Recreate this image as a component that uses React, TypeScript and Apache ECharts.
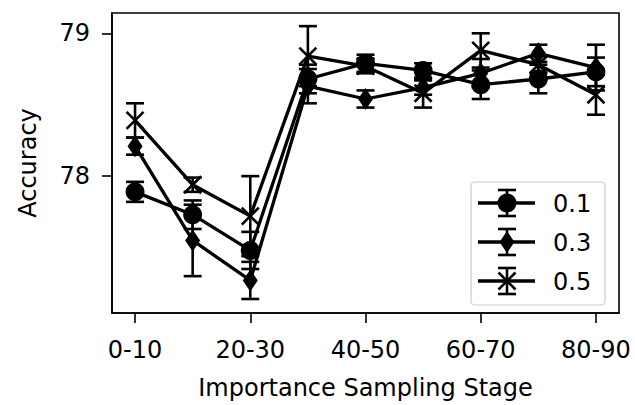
import React, { useEffect, useRef } from "react";
import * as echarts from "echarts";

const categories = ["0-10", "10-20", "20-30", "30-40", "40-50", "50-60", "60-70", "70-80", "80-90"];
const seriesNames = ["0.1", "0.3", "0.5"];
const markers = ["circle", "diamond", "x"];

const acc01 = [77.89, 77.73, 77.48, 78.68, 78.79, 78.74, 78.64, 78.68, 78.73];
const err01 = [0.07, 0.1, 0.13, 0.1, 0.06, 0.05, 0.1, 0.1, 0.1];
const acc03 = [78.21, 77.55, 77.27, 78.63, 78.54, 78.62, 78.72, 78.86, 78.76];
const err03 = [0.06, 0.25, 0.13, 0.12, 0.06, 0.05, 0.1, 0.06, 0.16];
const acc05 = [78.39, 77.94, 77.72, 78.84, 78.77, 78.58, 78.88, 78.78, 78.57];
const err05 = [0.12, 0.05, 0.28, 0.21, 0.05, 0.1, 0.12, 0.06, 0.14];

const yTicks = [78, 79];
const xTickIdx = [0, 2, 4, 6, 8];

const FONT = "DejaVu Sans";

function markerEl(kind: string, x: number, y: number) {
  if (kind === "circle") {
    return { type: "circle", shape: { cx: x, cy: y, r: 9.5 }, style: { fill: "#000" } };
  }
  if (kind === "diamond") {
    return {
      type: "polygon",
      shape: { points: [[x, y - 11], [x + 7.5, y], [x, y + 11], [x - 7.5, y]] },
      style: { fill: "#000" },
    };
  }
  const s = 8.5;
  return {
    type: "group",
    children: [
      { type: "line", shape: { x1: x - s, y1: y - s, x2: x + s, y2: y + s }, style: { stroke: "#000", lineWidth: 2.6 } },
      { type: "line", shape: { x1: x - s, y1: y + s, x2: x + s, y2: y - s }, style: { stroke: "#000", lineWidth: 2.6 } },
    ],
  };
}

function errorGroup(kind: string, x: number, y: number, yt: number, yb: number) {
  const cap = 9;
  const st = { stroke: "#000", lineWidth: 2.6 };
  return {
    type: "group",
    children: [
      { type: "line", shape: { x1: x, y1: yt, x2: x, y2: yb }, style: st },
      { type: "line", shape: { x1: x - cap, y1: yt, x2: x + cap, y2: yt }, style: st },
      { type: "line", shape: { x1: x - cap, y1: yb, x2: x + cap, y2: yb }, style: st },
      markerEl(kind, x, y),
    ],
  };
}

function makeRender(kind: string) {
  return (params: any, api: any) => {
    const x = api.value(0);
    const y = api.value(1);
    const e = api.value(2);
    const c = api.coord([x, y]);
    const t = api.coord([x, y + e]);
    const b = api.coord([x, y - e]);
    return errorGroup(kind, c[0], c[1], t[1], b[1]);
  };
}

export default function App() {
  const ref = useRef<HTMLDivElement>(null);
  useEffect(() => {
    if (!ref.current) return;
    const chart = echarts.init(ref.current, null, { renderer: "svg" });
    const allAcc = [acc01, acc03, acc05];
    const allErr = [err01, err03, err05];
    const series: any[] = [];
    seriesNames.forEach((name, k) => {
      series.push({
        type: "line",
        name,
        data: allAcc[k].map((v, i) => [i, v]),
        symbol: "none",
        lineStyle: { color: "#000", width: 3.3 },
        z: 2 + k * 2,
      });
      series.push({
        type: "custom",
        name,
        data: allAcc[k].map((v, i) => [i, v, allErr[k][i]]),
        renderItem: makeRender(markers[k]),
        z: 3 + k * 2,
      });
    });

    const lx0 = 478, lx1 = 535, lmx = 507, ltx = 553;
    const ly = [203, 242, 281];
    const legendChildren: any[] = [
      {
        type: "rect",
        shape: { x: 471, y: 182, width: 134, height: 123, r: 4 },
        style: { fill: "rgba(255,255,255,0.8)", stroke: "#cccccc", lineWidth: 1.2 },
      },
    ];
    seriesNames.forEach((name, k) => {
      legendChildren.push({
        type: "line",
        shape: { x1: lx0, y1: ly[k], x2: lx1, y2: ly[k] },
        style: { stroke: "#000", lineWidth: 3.3 },
      });
      legendChildren.push(errorGroup(markers[k], lmx, ly[k], ly[k] - 13, ly[k] + 13));
      legendChildren.push({
        type: "text",
        x: ltx,
        y: ly[k] + 1,
        style: { text: name, font: `24px '${FONT}'`, fill: "#000", verticalAlign: "middle", align: "left" },
      });
    });

    chart.setOption({
      animation: false,
      backgroundColor: "#fff",
      grid: {
        left: 112,
        right: 16,
        top: 13,
        bottom: 88,
        show: true,
        borderColor: "#000",
        borderWidth: 1.6,
        backgroundColor: "transparent",
      },
      xAxis: {
        type: "value",
        min: -0.4,
        max: 8.4,
        name: "Importance Sampling Stage",
        nameLocation: "middle",
        nameGap: 63,
        nameTextStyle: { fontFamily: FONT, fontSize: 24, color: "#000" },
        axisLine: { show: true, onZero: false, lineStyle: { color: "#000", width: 1.6 } },
        axisTick: { show: true, customValues: xTickIdx, length: 10, lineStyle: { color: "#000", width: 1.6 } },
        axisLabel: {
          customValues: xTickIdx,
          formatter: (v: number) => categories[Math.round(v)] ?? "",
          fontFamily: FONT,
          fontSize: 24,
          color: "#000",
          margin: 25,
        },
        splitLine: { show: false },
      },
      yAxis: {
        type: "value",
        min: 77.042,
        max: 79.142,
        name: "Accuracy",
        nameLocation: "middle",
        nameGap: 72,
        nameRotate: 90,
        nameTextStyle: { fontFamily: FONT, fontSize: 24, color: "#000" },
        axisLine: { show: true, onZero: false, lineStyle: { color: "#000", width: 1.6 } },
        axisTick: { show: true, customValues: yTicks, length: 10, lineStyle: { color: "#000", width: 1.6 } },
        axisLabel: {
          customValues: yTicks,
          fontFamily: FONT,
          fontSize: 24,
          color: "#000",
          margin: 22,
        },
        splitLine: { show: false },
      },
      graphic: [{ type: "group", children: legendChildren, z: 100 }],
      series,
    });
    return () => chart.dispose();
  }, []);
  return <div ref={ref} style={{ width: 635, height: 405, position: "absolute", left: 0, top: 0 }} />;
}
